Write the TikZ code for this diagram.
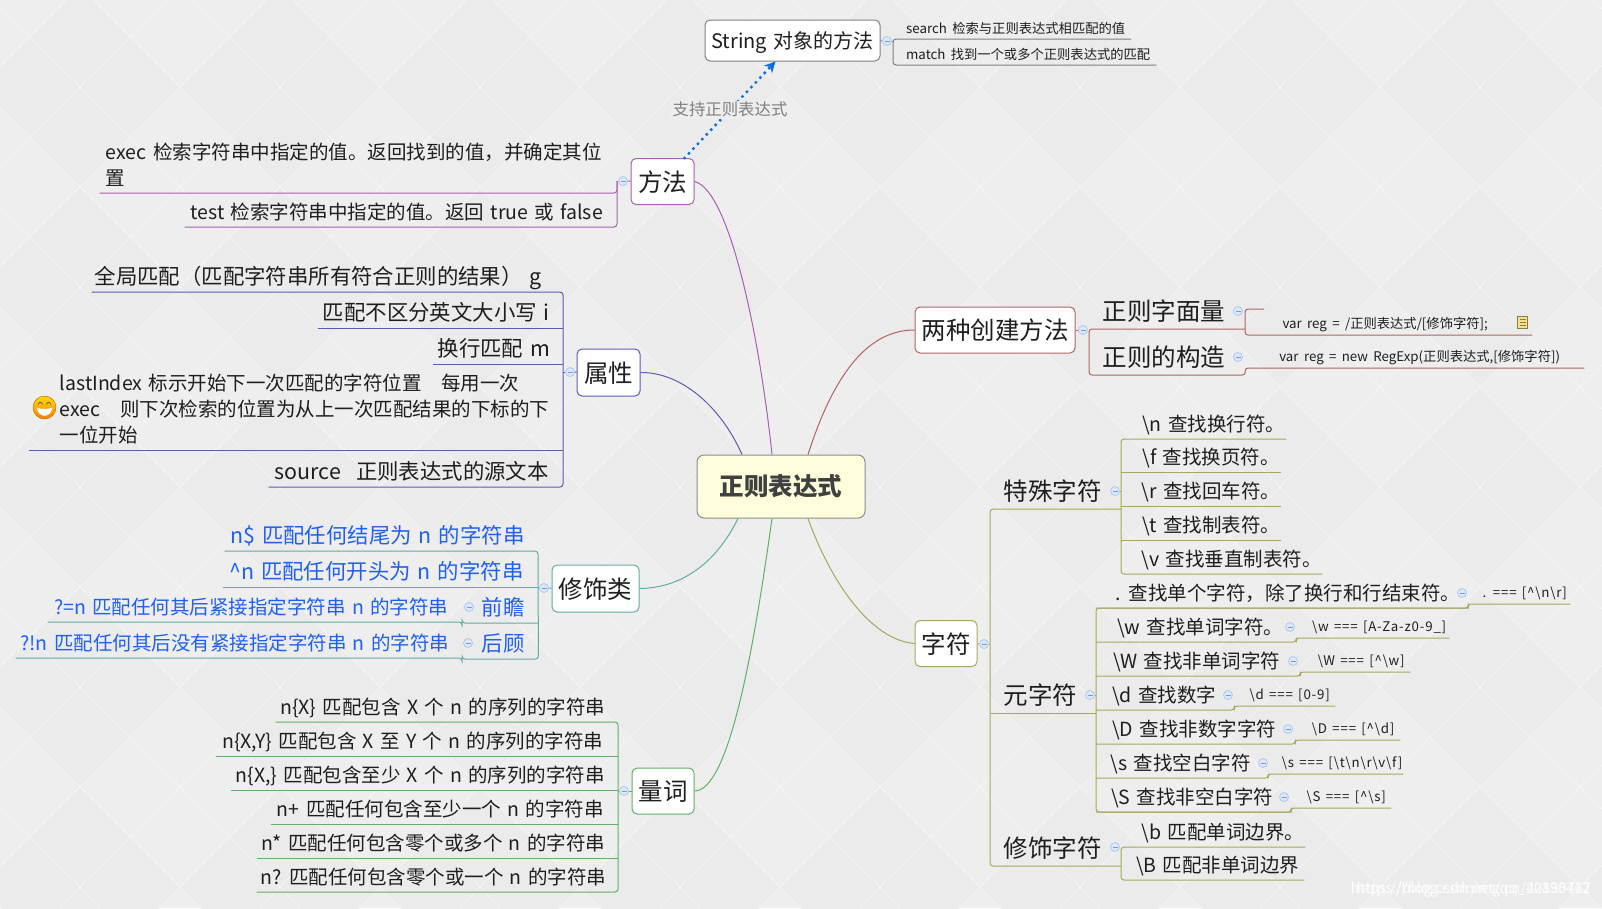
\documentclass[tikz,border=0pt]{standalone}
\usepackage{fontspec}
\setmainfont[WordSpace=1.45]{Noto Sans CJK SC}
\newfontfamily\notefont[WordSpace=1.8]{Noto Sans CJK SC}
\newfontfamily\eqfont[LetterSpace=6,WordSpace=1.4]{Noto Sans CJK SC}
\usepackage{tikz}
\usetikzlibrary{shapes,arrows,arrows.meta,positioning,calc}
\definecolor{pagebg}{HTML}{EEEEEE}
\definecolor{pagedk}{HTML}{EBEBEB}
\definecolor{cmeth}{HTML}{A860B0}
\definecolor{cattr}{HTML}{5C5CB4}
\definecolor{cmod}{HTML}{60ACA4}
\definecolor{cquant}{HTML}{60B068}
\definecolor{ccreate}{HTML}{B06464}
\definecolor{cchar}{HTML}{A8A85C}
\definecolor{cstr}{HTML}{808080}
\definecolor{ctext}{HTML}{1E1E1E}
\definecolor{cblue}{HTML}{2060F0}
\definecolor{cdot}{HTML}{0A6EDC}
\definecolor{foldf}{HTML}{DCE8FA}
\definecolor{foldb}{HTML}{AEC8F0}
\definecolor{foldl}{HTML}{7A9AD0}
\newcommand{\bs}{\textbackslash}
\newcommand{\crt}{\textasciicircum}

\begin{document}
\begin{tikzpicture}[
    x=1pt, y=-1pt,
    text=ctext,
    t24/.style={font=\fontsize{24.5}{28}\selectfont, text height=21.8pt, text depth=2.7pt},
    t21/.style={font=\fontsize{21.4}{26}\selectfont, text height=19.2pt, text depth=2.2pt},
    t19/.style={font=\fontsize{19.5}{26}\selectfont, text height=17.6pt, text depth=1.9pt},
    t13/.style={font=\notefont\fontsize{13.3}{16}\selectfont, text height=12.3pt, text depth=1pt},
    t13eq/.style={font=\eqfont\fontsize{13.3}{16}\selectfont, text height=12.3pt, text depth=1pt},
    nudge/.style={execute at begin node={\hspace*{#1}}},
    lleaf/.style={anchor=south east, inner xsep=0pt, inner ysep=5.5pt, nudge=-8pt},
    rleaf/.style={anchor=south west, inner xsep=0pt, inner ysep=5.5pt},
    mleaf/.style={anchor=south east, inner xsep=6pt, inner ysep=6pt, align=left, font=\fontsize{19.5}{26}\selectfont},
    topic/.style={rectangle, rounded corners=5pt, draw=#1, fill=white, line width=1pt, inner sep=0pt, minimum height=46pt, t24},
    rootbox/.style={rectangle, rounded corners=7pt, draw=black!45, fill=yellow!14, line width=1pt, inner sep=0pt, minimum width=168pt, minimum height=63pt},
    fold/.style={circle, draw=foldb, fill=foldf, line width=0.8pt, minimum size=9pt, inner sep=0pt, execute at begin node={\textcolor{foldl}{\rule{5pt}{0.8pt}}}},
    bar/.style={draw=#1, line width=1pt, rounded corners=3pt},
    curve/.style={draw=#1, line width=1pt},
    dotflow/.style={-{Stealth[length=11pt,width=11pt]}, cdot, line width=3.4pt, line cap=round, dash pattern=on 0pt off 6.5pt},
    lbl/.style={font=\fontsize{16.4}{20}\selectfont, text=black!50, fill=pagebg, inner sep=1.5pt},
    wmark/.style={anchor=east, font=\fontsize{14.6}{18}\selectfont, text=white, text opacity=0.85, inner sep=0pt},
    smile/.style={circle, draw=orange!75!black, top color=yellow!70!orange, bottom color=orange, line width=0.4pt, minimum size=23pt, inner sep=0pt},
    noteicon/.style={rectangle, draw=yellow!45!black, fill=yellow!50!orange!45, line width=1pt, minimum width=10pt, minimum height=12pt, inner sep=0pt}
]
\useasboundingbox (0,0) rectangle (1602,908);
% ----- background -----
\fill[pagebg] (0,0) rectangle (1602,908);
\begin{scope}
\clip (0,0) rectangle (1602,908);
\foreach \i in {-1,...,8} \foreach \j in {0,...,5}
    \fill[pagedk, shift={({80+200*\i},{200*\j-113})}] (-100,0) -- (0,-100) -- (100,0) -- (0,100) -- cycle;
\foreach \k in {0,...,24} \draw[white, line width=0.5pt, opacity=0.6] ({67+100*\k},0) -- ({67+100*\k-908},908);
\foreach \k in {-10,...,15} \draw[white, line width=0.5pt, opacity=0.6] ({93+100*\k},0) -- ({93+100*\k+908},908);
\end{scope}
% ----- centre and topics -----
\node[rootbox, font=\fontsize{24.5}{28}\selectfont\bfseries, text=black!75] (root) at (781,486.5) {正则表达式};
\node[topic=cmeth,  minimum width=63pt] (meth)   at (662.5,181.5) {方法};
\node[topic=cattr,  minimum width=63pt, minimum height=47pt] (attr) at (608.5,372.5) {属性};
\node[topic=cmod,   minimum width=87pt, minimum height=47pt] (modi) at (595.5,588.5) {修饰类};
\node[topic=cquant, minimum width=62pt] (quant)  at (663,791) {量词};
\node[topic=ccreate,minimum width=160pt] (create) at (995,330) {两种创建方法};
\node[topic=cchar,  minimum width=62pt] (chars)  at (946,643.5) {字符};
\node[topic=cstr, minimum width=175pt, minimum height=41pt, font=\fontsize{20}{26}\selectfont, text height=17.8pt, text depth=2.2pt] (strobj) at (792.5,40.5) {String 对象的方法};
% ----- methods -----
\node[mleaf, text width=505pt] (m1) at (617,193) {exec 检索字符串中指定的值。返回找到的值，并确定其位\\置};
\node[lleaf, t19, minimum width=432pt] (m2) at (617,227) {test 检索字符串中指定的值。返回 true 或 false};
\node[fold] (dmeth) at (623,181) {};
\coordinate (tmeth) at (617,181);
\draw[bar=cmeth] (m1.south west) -- (m1.south east) -- (tmeth);
\draw[bar=cmeth] (m2.south west) -- (m2.south east) -- (tmeth);
\draw[bar=cmeth] (dmeth) -- (tmeth);
\draw[cmeth, line width=1pt] (meth) -- (dmeth);
% ----- attributes -----
\node[lleaf, t21, minimum width=471pt, nudge=-10pt] (a1) at (563,292) {全局匹配（匹配字符串所有符合正则的结果） g};
\node[lleaf, t21, minimum width=245pt] (a2) at (563,328) {匹配不区分英文大小写 i};
\node[lleaf, t21, minimum width=130pt] (a3) at (563,364) {换行匹配 m};
\node[mleaf, inner xsep=0pt, text width=503pt] (a4) at (563,450) {lastIndex 标示开始下一次匹配的字符位置　每用一次\\exec　则下次检索的位置为从上一次匹配结果的下标的下\\一位开始};
\node[lleaf, t21, minimum width=294pt] (a5) at (563,487) {source\hspace{15pt}正则表达式的源文本};
\node[smile] (emoji) at (44.5,407.5) {};
\begin{scope}[shift={(emoji.center)}]
\fill[white] (-8,0) .. controls (-6,11) and (6,11) .. (8,0) .. controls (3,2) and (-3,2) .. cycle;
\draw[black!60, line width=0.8pt] (-6.5,-3) .. controls (-5,-6) and (-3,-6) .. (-2,-3);
\draw[black!60, line width=0.8pt] (2,-3) .. controls (3,-6) and (5,-6) .. (6.5,-3);
\end{scope}
\coordinate (uemoji) at ([xshift=-4pt]emoji.west);
\node[fold] (dattr) at (570,372) {};
\coordinate (tattr) at (563,372);
\draw[bar=cattr] (a1.south west) -- (a1.south east) -- (a5.south east) -- (a5.south west);
\foreach \a in {a2,a3} \draw[bar=cattr] (\a.south west) -- (\a.south east);
\draw[bar=cattr] (uemoji |- a4.south) -- (a4.south east);
\draw[bar=cattr] (dattr) -- (tattr);
\draw[cattr, line width=1pt] (attr) -- (dattr);
% ----- modifiers -----
\begin{scope}[text=cblue]
\node[lleaf, t21, minimum width=313pt] (x1) at (538,551) {n\$ 匹配任何结尾为 n 的字符串};
\node[lleaf, t21, minimum width=315pt] (x2) at (538,587) {\crt n 匹配任何开头为 n 的字符串};
\node[rleaf, t21, minimum width=76pt, nudge=6pt] (x3) at (462,623) {前瞻};
\node[rleaf, t21, minimum width=76pt, nudge=6pt] (x4) at (462,659) {后顾};
\node[lleaf, t19, minimum width=414pt, nudge=1pt] (x5) at (462,622) {?=n 匹配任何其后紧接指定字符串 n 的字符串};
\node[lleaf, t19, minimum width=446pt, nudge=0pt] (x6) at (462,658) {?!n 匹配任何其后没有紧接指定字符串 n 的字符串};
\end{scope}
\node[fold] (dx3) at (469,607) {};
\node[fold] (dx4) at (468,643) {};
\node[fold] (dmodi) at (544,588) {};
\coordinate (tmodi) at (538,588);
\draw[bar=cmod] (x1.south west) -- (x1.south east) -- (x4.south east) -- (x4.south west) -- (x6.south east) -- (x6.south west);
\draw[bar=cmod] (x2.south west) -- (x2.south east);
\draw[bar=cmod] (x5.south west) -- (x5.south east) -- (x3.south west) -- (x3.south east);
\draw[bar=cmod] (dmodi) -- (tmodi);
\draw[cmod, line width=1pt] (modi) -- (dmodi);
% ----- quantifiers -----
\node[lleaf, t19, minimum width=342pt] (q1) at (618,722) {n\{X\} 匹配包含 X 个 n 的序列的字符串};
\node[lleaf, t19, minimum width=402pt] (q2) at (618,756) {n\{X,Y\} 匹配包含 X 至 Y 个 n 的序列的字符串};
\node[lleaf, t19, minimum width=387pt] (q3) at (618,790) {n\{X,\} 匹配包含至少 X 个 n 的序列的字符串};
\node[lleaf, t19, minimum width=347pt] (q4) at (618,824) {n+ 匹配任何包含至少一个 n 的字符串};
\node[lleaf, t19, minimum width=361pt] (q5) at (618,858) {n* 匹配任何包含零个或多个 n 的字符串};
\node[lleaf, t19, minimum width=361pt] (q6) at (618,892) {n? 匹配任何包含零个或一个 n 的字符串};
\node[fold] (dquant) at (624,791) {};
\coordinate (tquant) at (618,791);
\draw[bar=cquant] (q1.south west) -- (q1.south east) -- (q6.south east) -- (q6.south west);
\foreach \a in {q2,q3,q4,q5} \draw[bar=cquant] (\a.south west) -- (\a.south east);
\draw[bar=cquant] (dquant) -- (tquant);
\draw[cquant, line width=1pt] (quant) -- (dquant);
% ----- string object -----
\node[rleaf, t13, inner ysep=4.5pt, minimum width=238pt, nudge=7pt] (r1) at (893,39) {search 检索与正则表达式相匹配的值};
\node[rleaf, t13, inner ysep=4.5pt, minimum width=263pt, nudge=7pt] (r2) at (893,65) {match 找到一个或多个正则表达式的匹配};
\node[fold] (dstr) at (887,41) {};
\draw[bar=cstr] (r1.south east) -- (r1.south west) -- (r2.south west) -- (r2.south east);
\draw[cstr, line width=1pt] (strobj) -- (dstr);
\draw[cstr, line width=1pt] (dstr) -- (dstr -| r1.south west);
\draw[dotflow] ([xshift=22pt]meth.north) -- ([xshift=-17pt]strobj.south) node[lbl, midway] (lsup) {支持正则表达式};
% ----- two ways to create -----
\node[rleaf, t24, minimum width=156pt, nudge=-6pt] (g1) at (1089,329) {正则字面量};
\node[rleaf, t24, minimum width=156pt, nudge=-6pt] (g2) at (1089,375) {正则的构造};
\node[rleaf, t13, minimum width=287pt, nudge=-7pt] (v1) at (1245,335) {var reg = /正则表达式/[修饰字符];};
\node[rleaf, t13, minimum width=339pt, nudge=10pt] (v2) at (1245,368) {var reg = new RegExp(正则表达式,[修饰字符])};
\node[noteicon] (note) at (1522.5,322.5) {};
\foreach \d in {-3,0,3} \draw[yellow!45!black, line width=0.7pt] ([shift={(-3pt,\d pt)}]note.center) -- ([shift={(3pt,\d pt)}]note.center);
\node[fold] (dcreate) at (1083,330) {};
\node[fold] (dg1) at (1238,311) {};
\node[fold] (dg2) at (1238,357) {};
\coordinate (sv1) at (1264,309);
\draw[bar=ccreate] (g1.south east) -- (g1.south west) -- (g2.south west) -- (g2.south east) -- (v2.south west) -- (v2.south east);
\draw[bar=ccreate] (sv1) -- (sv1 -| v1.south west) -- (v1.south west) -- (v1.south east);
\draw[ccreate, line width=1pt] (create) -- (dcreate);
% ----- characters -----
\node[rleaf, t24, minimum width=131pt, nudge=-6pt] (c1) at (990,509) {特殊字符};
\node[rleaf, t24, minimum width=106pt, nudge=-5pt] (c2) at (990,713) {元字符};
\node[rleaf, t24, minimum width=131pt, nudge=-6pt] (c3) at (990,866) {修饰字符};
\node[fold] (dchars) at (984,644) {};
\node[fold] (dc1) at (1115,491) {};
\node[fold] (dc2) at (1090,695) {};
\node[fold] (dc3) at (1115,847) {};
\draw[bar=cchar] (c1.south east) -- (c1.south west) -- (c3.south west) -- (c3.south east);
\draw[bar=cchar] (c2.south west) -- (c2.south east);
\draw[cchar, line width=1pt] (chars) -- (dchars);
\draw[cchar, line width=1pt] (dchars) -- (dchars -| c1.south west);
% special characters
\node[rleaf, t19, minimum width=165pt, nudge=20pt] (s1) at (1121,439) {\bs n 查找换行符。};
\node[rleaf, t19, minimum width=160pt, nudge=20pt] (s2) at (1121,472) {\bs f 查找换页符。};
\node[rleaf, t19, minimum width=160pt, nudge=20pt] (s3) at (1121,506) {\bs r 查找回车符。};
\node[rleaf, t19, minimum width=160pt, nudge=20pt] (s4) at (1121,540) {\bs t 查找制表符。};
\node[rleaf, t19, minimum width=201pt, nudge=20pt] (s5) at (1121,574) {\bs v 查找垂直制表符。};
\draw[bar=cchar] (s1.south east) -- (s1.south west) -- (s5.south west) -- (s5.south east);
\foreach \a in {s2,s3,s4} \draw[bar=cchar] (\a.south west) -- (\a.south east);
\draw[cchar, line width=1pt] (dc1) -- (dc1 -| s1.south west);
% metacharacters
\node[rleaf, t19, minimum width=372pt, nudge=11pt] (k1) at (1096,608) {. 查找单个字符，除了换行和行结束符。};
\node[rleaf, t19, minimum width=200pt, nudge=8pt] (k2) at (1096,642) {\bs w 查找单词字符。};
\node[rleaf, t19, minimum width=204pt, nudge=-3pt] (k3) at (1096,676) {\bs W 查找非单词字符};
\node[rleaf, t19, minimum width=138pt, nudge=-2pt] (k4) at (1096,710) {\bs d 查找数字};
\node[rleaf, t19, minimum width=199pt, nudge=-3pt] (k5) at (1096,744) {\bs D 查找非数字字符};
\node[rleaf, t19, minimum width=172pt, nudge=-3pt] (k6) at (1096,778) {\bs s 查找空白字符};
\node[rleaf, t19, minimum width=195pt, nudge=-3pt] (k7) at (1096,812) {\bs S 查找非空白字符};
\node[rleaf, t13eq, minimum width=102pt, nudge=11pt] (n1) at (1468,604) {. === [\crt\bs n\bs r]};
\node[rleaf, t13eq, minimum width=153pt, nudge=13pt] (n2) at (1296,638) {\bs w === [A-Za-z0-9\_]};
\node[rleaf, t13eq, minimum width=110pt, nudge=12pt] (n3) at (1300,672) {\bs W === [\crt\bs w]};
\node[rleaf, t13eq, minimum width=101pt, nudge=10pt] (n4) at (1234,706) {\bs d === [0-9]};
\node[rleaf, t13eq, minimum width=105pt, nudge=11pt] (n5) at (1295,740) {\bs D === [\crt\bs d]};
\node[rleaf, t13eq, minimum width=135pt, nudge=13pt] (n6) at (1268,774) {\bs s === [\bs t\bs n\bs r\bs v\bs f]};
\node[rleaf, t13eq, minimum width=100pt, nudge=10pt] (n7) at (1291,808) {\bs S === [\crt\bs s]};
\foreach \p/\x/\y in {fk1/1462/593,fk2/1290/627,fk3/1293/661,fk4/1228/695,fk5/1288/729,fk6/1263/763,fk7/1284/797}
    \node[fold] (\p) at (\x,\y) {};
\draw[bar=cchar] (k1.south east) -- (k1.south west) -- (k7.south west) -- (k7.south east);
\foreach \a/\b in {k1/n1,k2/n2,k3/n3,k4/n4,k5/n5,k6/n6,k7/n7}
    \draw[bar=cchar] (\a.south west) -- (\a.south east) -- (\b.south west) -- (\b.south east);
\draw[cchar, line width=1pt] (dc2) -- (dc2 -| k1.south west);
% word boundary
\node[rleaf, t19, minimum width=184pt, nudge=20pt] (b1) at (1121,847) {\bs b 匹配单词边界。};
\node[rleaf, t19, minimum width=183pt, nudge=10pt] (b2) at (1121,880) {\bs B 匹配非单词边界};
\draw[bar=cchar] (b1.south east) -- (b1.south west) -- (b2.south west) -- (b2.south east);
% ----- links to centre -----
\draw[curve=cmeth]   (meth.east) .. controls (730,190) and (760,340) .. ([xshift=-9pt]root.north);
\draw[curve=cattr]   (attr.east) .. controls (680,372) and (720,405) .. ([xshift=-39pt]root.north);
\draw[curve=cmod]    (modi.east) .. controls (680,588) and (715,565) .. ([xshift=-43pt]root.south);
\draw[curve=cquant]  (quant.east) .. controls (730,791) and (755,640) .. ([xshift=-9pt]root.south);
\draw[curve=ccreate] (create.west) .. controls (870,330) and (835,370) .. ([xshift=27pt]root.north);
\draw[curve=cchar]   (chars.west) .. controls (870,640) and (830,580) .. ([xshift=27pt]root.south);
% ----- watermark -----
\node[wmark] (wm1) at (1591,889) {https://blog.csdnimg.cn/20190712};
\node[wmark] (wm2) at (1591,889) {https://blog.csdn.net/qq\_42835467};
\end{tikzpicture}
\end{document}
